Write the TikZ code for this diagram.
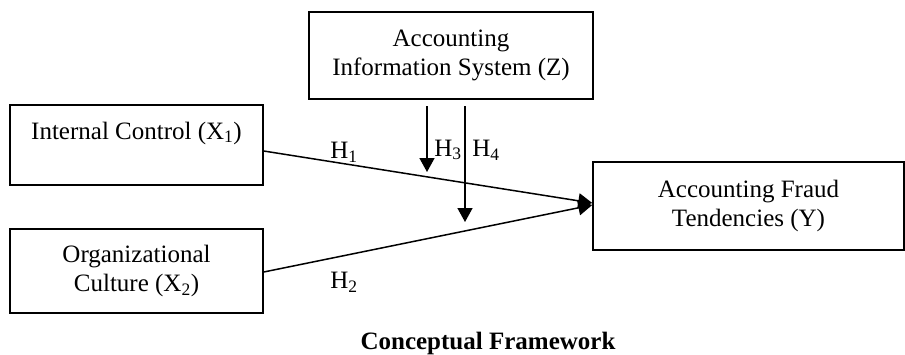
\documentclass[tikz,border=0pt]{standalone}
\usepackage{fontspec}
\setmainfont{Liberation Serif}
\usetikzlibrary{arrows.meta}
\begin{document}
\begin{tikzpicture}[x=1pt,y=-1pt,
  box/.style={draw,line width=1.5pt,inner sep=0pt,align=center,font=\fontsize{25}{29}\selectfont},
  lbl/.style={inner sep=0pt,font=\fontsize{25}{29}\selectfont},
  conn/.style={line width=1.5pt,-{Triangle[length=14pt,width=15pt]}}]
\useasboundingbox (0,0) rectangle (905,354);
\node[box,minimum width=284pt,minimum height=87pt] (z) at (451,55.5) {Accounting\\Information System (Z)};
\node[box,minimum width=253pt,minimum height=80pt] (x1) at (136.5,145) {Internal Control (X\textsubscript{1})\\\mbox{}};
\node[box,minimum width=253pt,minimum height=84pt] (x2) at (136.5,271) {Organizational\\Culture (X\textsubscript{2})};
\node[box,minimum width=311pt,minimum height=88pt] (y) at (748.5,206) {Accounting Fraud\\Tendencies (Y)};
\coordinate (h3s) at (427,106);
\coordinate (h3e) at (427,172);
\coordinate (h4s) at (465,106);
\coordinate (h4e) at (465,222);
\draw[conn] ([yshift=-6pt]x1.east) -- ([yshift=3pt]y.west);
\draw[conn] ([yshift=-1pt]x2.east) -- ([yshift=1pt]y.west);
\draw[conn] (h3s) -- (h3e);
\draw[conn] (h4s) -- (h4e);
\node[lbl] (l1) at (344,152) {H\textsubscript{1}};
\node[lbl] (l2) at (344,282) {H\textsubscript{2}};
\node[lbl] (l3) at (448,150) {H\textsubscript{3}};
\node[lbl] (l4) at (486,150) {H\textsubscript{4}};
\node[lbl,font=\fontsize{25}{29}\selectfont\bfseries] (t) at (488,343) {Conceptual Framework};
\end{tikzpicture}
\end{document}
